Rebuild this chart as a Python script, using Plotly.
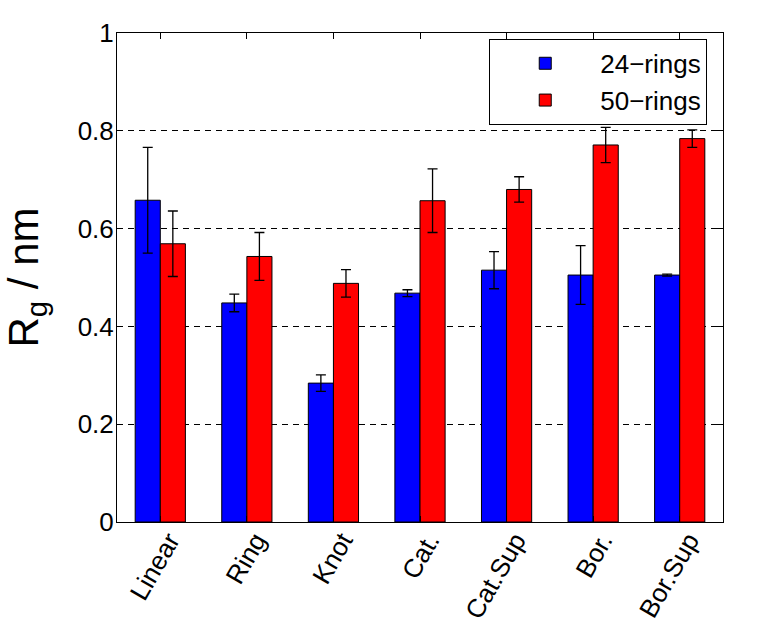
import plotly.graph_objects as go

categories = ["Linear", "Ring", "Knot", "Cat.", "Cat.Sup", "Bor.", "Bor.Sup"]
rings24 = [0.658, 0.448, 0.284, 0.468, 0.515, 0.505, 0.505]
rings24_err = [0.108, 0.018, 0.017, 0.007, 0.038, 0.060, 0.002]
rings50 = [0.569, 0.543, 0.488, 0.657, 0.680, 0.771, 0.784]
rings50_err = [0.067, 0.049, 0.028, 0.065, 0.026, 0.036, 0.018]
yticks = [0, 0.2, 0.4, 0.6, 0.8, 1]
ytick_labels = ["0", "0.2", "0.4", "0.6", "0.8", "1"]

FONT = "Liberation Sans, Arial, Helvetica, sans-serif"

fig = go.Figure()
fig.add_trace(go.Bar(
    x=categories, y=rings24, name="24\u2212rings",
    marker=dict(color="#0000ff", line=dict(color="black", width=1)),
    error_y=dict(type="data", array=rings24_err, color="black", thickness=1.3, width=5),
))
fig.add_trace(go.Bar(
    x=categories, y=rings50, name="50\u2212rings",
    marker=dict(color="#ff0000", line=dict(color="black", width=1)),
    error_y=dict(type="data", array=rings50_err, color="black", thickness=1.3, width=5),
))

fig.update_layout(
    width=776, height=623,
    margin=dict(l=117, r=53, t=33, b=101),
    paper_bgcolor="white", plot_bgcolor="white",
    barmode="group", bargap=0.42, bargroupgap=0,
    font=dict(family=FONT, size=26, color="black"),
    showlegend=True,
    legend=dict(
        x=0.974, y=0.988, xanchor="right", yanchor="top",
        bordercolor="black", borderwidth=1, bgcolor="white",
        font=dict(size=26, family=FONT), tracegroupgap=0, itemwidth=100,
    ),
    xaxis=dict(
        range=[-0.5, 6.5], showline=True, linecolor="black", linewidth=1,
        mirror="ticks", ticks="inside", ticklen=6, tickcolor="black",
        tickangle=-60, tickfont=dict(size=26, family=FONT), showgrid=False,
        automargin=False, ticklabelshift=9, ticklabelstandoff=-8,
    ),
    yaxis=dict(
        range=[0, 1], tickvals=yticks, ticktext=ytick_labels,
        showline=True, linecolor="black", linewidth=1,
        mirror="ticks", ticks="inside", ticklen=6, tickcolor="black",
        tickfont=dict(size=26, family=FONT), ticklabelstandoff=-3,
        showgrid=True, gridcolor="black", gridwidth=1, griddash="6px,5px",
        zeroline=False, automargin=False,
        title=dict(text="R<sub>g</sub> / nm", font=dict(size=42, family=FONT), standoff=26),
    ),
)

fig.write_html(
    "out.html",
    config={"displayModeBar": False},
    post_script="document.body.style.margin='0px';",
)
